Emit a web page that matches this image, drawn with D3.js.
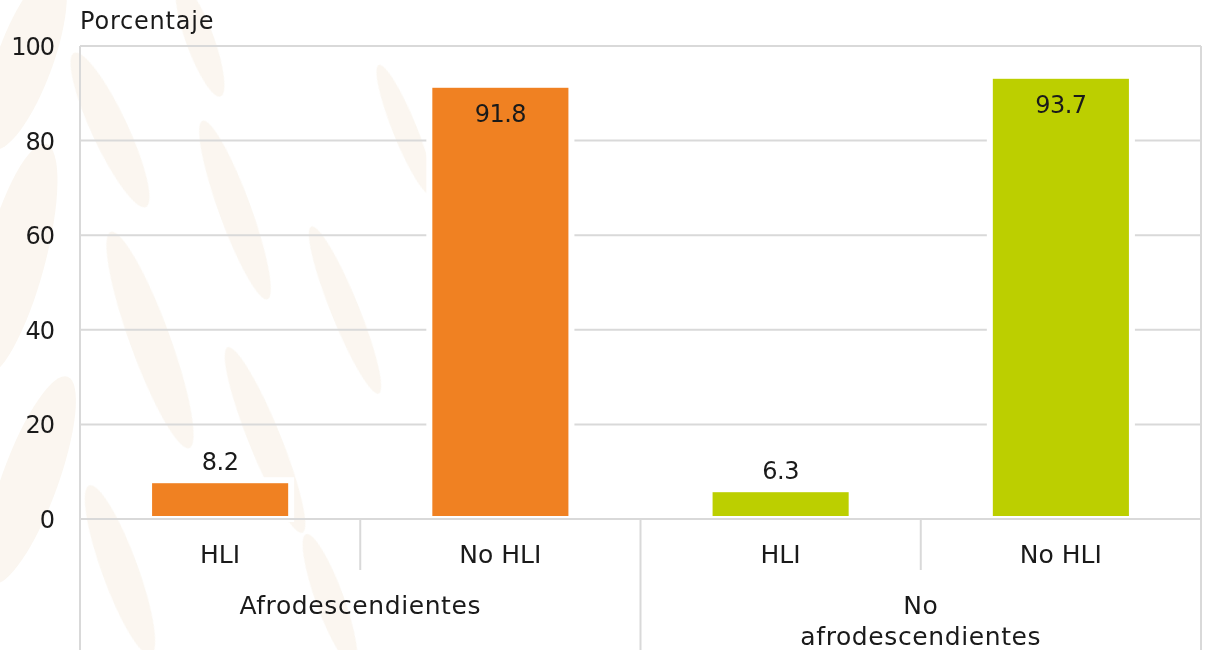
<!DOCTYPE html>
<html>
<head>
<meta charset="utf-8">
<script src="https://cdn.jsdelivr.net/npm/d3@7"></script>
<style>
  body { margin: 0; background: #fff; }
  svg text { font-family: "DejaVu Sans", sans-serif; fill: #1a1a1a; }
</style>
</head>
<body>
<div id="chart"></div>
<script>
(function() {
    'use strict';

    // data
    var groups = ['Afrodescendientes', 'No afrodescendientes'];
    var groupLines = [['Afrodescendientes'], ['No', 'afrodescendientes']];
    var categories = ['HLI', 'No HLI'];
    var afroValues = [8.2, 91.8];
    var noAfroValues = [6.3, 93.7];
    var yTicks = [0, 20, 40, 60, 80, 100];
    var colors = ['#f08122', '#bccf00'];

    var width = 1206, height = 650;
    var left = 80, right = 1201, top = 46, bottom = 519;

    var svg = d3.select('#chart')
      .append('svg')
        .attr('width', width)
        .attr('height', height);

    svg.append('rect')
        .attr('width', width)
        .attr('height', height)
        .attr('fill', '#fff');

    // faint watermark on the left
    var wm = svg.append('g').attr('fill', '#f5ebdd').attr('opacity', 0.45);
    var blobs = [[25, 60, 28, 95, 20], [15, 260, 30, 120, 15], [30, 480, 28, 110, 20],
                 [110, 130, 18, 85, -25], [150, 340, 20, 115, -20], [120, 570, 18, 90, -20],
                 [235, 210, 16, 95, -20], [265, 440, 16, 100, -22], [345, 310, 14, 90, -22],
                 [330, 600, 14, 70, -20], [200, 40, 14, 60, -20], [405, 130, 12, 70, -22]];
    blobs.forEach(function(b) {
        wm.append('ellipse')
            .attr('transform', 'translate(' + b[0] + ',' + b[1] + ') rotate(' + b[4] + ')')
            .attr('rx', b[2])
            .attr('ry', b[3]);
    });

    var rows = [];
    groups.forEach(function(g, gi) {
        var vals = gi === 0 ? afroValues : noAfroValues;
        categories.forEach(function(c, ci) {
            rows.push({ key: g + '|' + c, group: gi, cat: c, value: vals[ci] });
        });
    });

    var x = d3.scaleBand()
        .domain(rows.map(function(d) { return d.key; }))
        .range([left, right])
        .paddingInner(0)
        .paddingOuter(0);

    var y = d3.scaleLinear().domain([0, 100]).range([bottom, top]);

    var grid = '#d9d9d9';

    // gridlines
    svg.append('g')
        .selectAll('line')
        .data(yTicks)
        .join('line')
        .attr('x1', left)
        .attr('x2', right)
        .attr('y1', function(d) { return y(d); })
        .attr('y2', function(d) { return y(d); })
        .attr('stroke', grid)
        .attr('stroke-width', 2);

    // frame
    svg.append('line').attr('x1', left).attr('x2', left).attr('y1', top).attr('y2', height)
        .attr('stroke', grid).attr('stroke-width', 2);
    svg.append('line').attr('x1', right).attr('x2', right).attr('y1', top).attr('y2', height)
        .attr('stroke', grid).attr('stroke-width', 2);

    // category separators
    var bw = x.bandwidth();
    rows.forEach(function(d, i) {
        if (i === 0) return;
        var xx = x(d.key);
        svg.append('line')
            .attr('x1', xx).attr('x2', xx)
            .attr('y1', bottom)
            .attr('y2', i === 2 ? height : bottom + 51)
            .attr('stroke', grid)
            .attr('stroke-width', 2);
    });

    // y tick labels
    svg.append('g')
        .selectAll('text')
        .data(yTicks)
        .join('text')
        .attr('x', 54)
        .attr('y', function(d) { return y(d) + 9; })
        .attr('text-anchor', 'end')
        .attr('font-size', 24)
        .attr('letter-spacing', -1)
        .text(function(d) { return d; });

    svg.append('text')
        .attr('x', 80)
        .attr('y', 29)
        .attr('font-size', 24)
        .attr('letter-spacing', 0.8)
        .text('Porcentaje');

    // bars
    var barW = bw * 0.507;
    svg.append('g')
        .selectAll('rect')
        .data(rows)
        .join('rect')
        .attr('x', function(d) { return x(d.key) + (bw - barW) / 2; })
        .attr('y', function(d) { return y(d.value); })
        .attr('width', barW)
        .attr('height', function(d) { return y(0) - y(d.value); })
        .attr('fill', function(d) { return colors[d.group]; })
        .attr('stroke', '#fff')
        .attr('stroke-width', 6);

    // baseline drawn over bars
    svg.append('line')
        .attr('x1', left).attr('x2', right)
        .attr('y1', y(0)).attr('y2', y(0))
        .attr('stroke', grid)
        .attr('stroke-width', 2);

    // value labels
    svg.append('g')
        .selectAll('text')
        .data(rows)
        .join('text')
        .attr('x', function(d) { return x(d.key) + bw / 2; })
        .attr('y', function(d) { return d.value > 50 ? y(d.value) + 37 : y(d.value) - 10; })
        .attr('text-anchor', 'middle')
        .attr('font-size', 24)
        .attr('letter-spacing', -0.5)
        .text(function(d) { return d.value.toFixed(1); });

    // category labels
    svg.append('g')
        .selectAll('text')
        .data(rows)
        .join('text')
        .attr('x', function(d) { return x(d.key) + bw / 2; })
        .attr('y', 563)
        .attr('text-anchor', 'middle')
        .attr('font-size', 25)
        .text(function(d) { return d.cat; });

    // group labels
    groupLines.forEach(function(lines, gi) {
        var cx = left + (right - left) / 4 * (gi * 2 + 1);
        lines.forEach(function(t, li) {
            svg.append('text')
                .attr('x', cx)
                .attr('y', 614 + li * 31)
                .attr('text-anchor', 'middle')
                .attr('font-size', 25)
                .attr('letter-spacing', 0.6)
                .text(t);
        });
    });
}());
</script>
</body>
</html>
